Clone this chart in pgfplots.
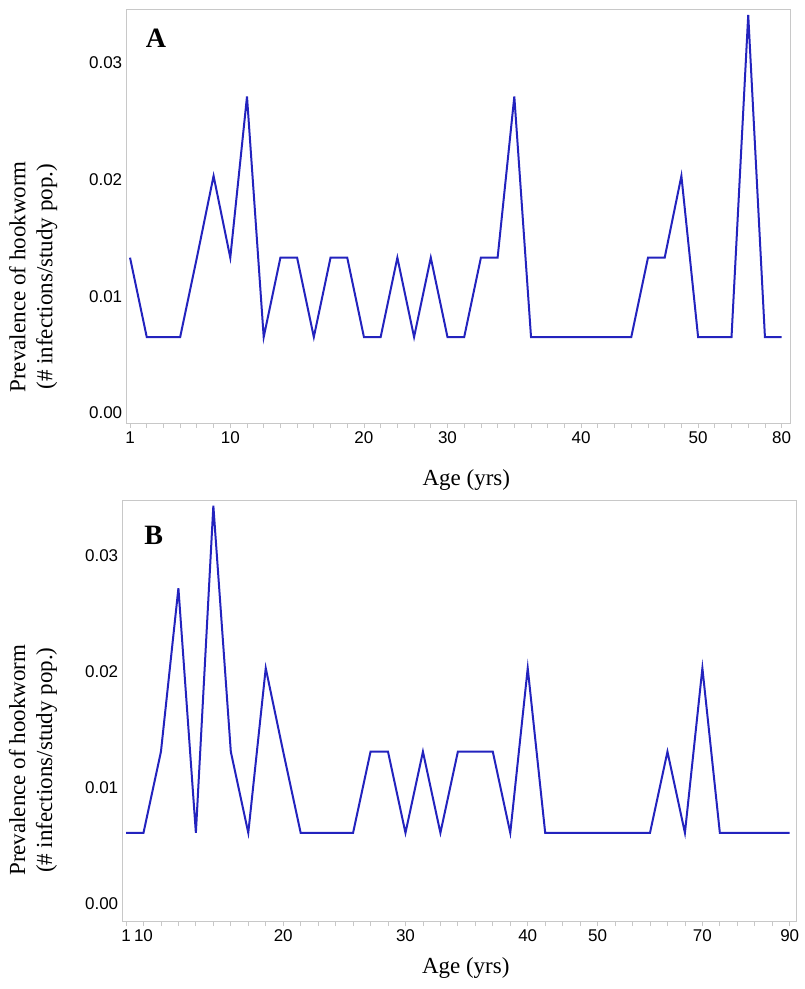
\documentclass[border=0pt]{standalone}
\usepackage{pgfplots}
\pgfplotsset{compat=1.18}
\usepackage{pgfplotstable}
\usepackage{fontspec}
\setmainfont{Liberation Serif}
\newfontfamily\arial{Liberation Sans}
\definecolor{lineblue}{RGB}{35,35,190}
\definecolor{framegray}{RGB}{200,200,200}

% panel A: age category index, prevalence
\pgfplotstableread{
i p
0 0.0133
1 0.0065
2 0.0065
3 0.0065
4 0.0133
5 0.0203
6 0.0133
7 0.0271
8 0.0065
9 0.0133
10 0.0133
11 0.0065
12 0.0133
13 0.0133
14 0.0065
15 0.0065
16 0.0133
17 0.0065
18 0.0133
19 0.0065
20 0.0065
21 0.0133
22 0.0133
23 0.0271
24 0.0065
25 0.0065
26 0.0065
27 0.0065
28 0.0065
29 0.0065
30 0.0065
31 0.0133
32 0.0133
33 0.0203
34 0.0065
35 0.0065
36 0.0065
37 0.0341
38 0.0065
39 0.0065
}\dataA

% panel B
\pgfplotstableread{
i p
0 0.0061
1 0.0061
2 0.0131
3 0.0272
4 0.0061
5 0.0343
6 0.0131
7 0.0061
8 0.0203
9 0.0131
10 0.0061
11 0.0061
12 0.0061
13 0.0061
14 0.0131
15 0.0131
16 0.0061
17 0.0131
18 0.0061
19 0.0131
20 0.0131
21 0.0131
22 0.0061
23 0.0203
24 0.0061
25 0.0061
26 0.0061
27 0.0061
28 0.0061
29 0.0061
30 0.0061
31 0.0131
32 0.0061
33 0.0203
34 0.0061
35 0.0061
36 0.0061
37 0.0061
38 0.0061
}\dataB

\pgfplotsset{
  panel/.style={
    scale only axis,
    axis line style={draw=framegray, line width=0.8pt},
    tick align=outside,
    xtick pos=bottom, ytick pos=left,
    major tick length=5pt, minor tick length=5pt,
    every tick/.style={draw=framegray, line width=0.8pt},
    ytick style={draw=none},
    scaled y ticks=false,
    ytick={0,0.01,0.02,0.03},
    yticklabels={0.00,0.01,0.02,0.03},
    ticklabel style={font=\arial\fontsize{17}{17}\selectfont},
    yticklabel style={xshift=4pt},
    xlabel={Age (yrs)},
    ylabel={Prevalence of hookworm\\(\# infections/study pop.)},
    label style={font=\fontsize{23}{27}\selectfont},
    ylabel style={align=center},
  },
}

\begin{document}
\begin{tikzpicture}
\path[use as bounding box] (0,0) rectangle (805pt,989pt);

\begin{axis}[panel,
  at={(126.7pt,566pt)}, anchor=south west,
  width=663.3pt, height=414pt,
  xmin=-0.2, xmax=39.5,
  ymin=-0.00086, ymax=0.0346,
  minor xtick={0,...,39},
  xtick={0,6,14,19,27,34,39},
  xticklabels={1,10,20,30,40,50,80},
  xlabel style={at={(axis description cs:0.512,-0.138)}, anchor=center},
  ylabel style={at={(axis description cs:-0.141,0.353)}, anchor=center},
]
\addplot[lineblue, line width=2pt, line join=miter] table[x=i, y=p] {\dataA};
\node[font=\bfseries\fontsize{28}{28}\selectfont] at (axis description cs:0.044,0.93) {A};
\end{axis}

\begin{axis}[panel,
  at={(122.7pt,68pt)}, anchor=south west,
  width=674pt, height=421pt,
  xmin=-0.19, xmax=38.4,
  ymin=-0.0015, ymax=0.0348,
  minor xtick={0,...,38},
  xtick={0,1,9,16,23,27,33,38},
  xticklabels={1,10,20,30,40,50,70,90},
  xlabel style={at={(axis description cs:0.509,-0.112)}, anchor=center},
  ylabel style={at={(axis description cs:-0.133,0.382)}, anchor=center},
]
\addplot[lineblue, line width=2pt, line join=miter] table[x=i, y=p] {\dataB};
\node[font=\bfseries\fontsize{28}{28}\selectfont] at (axis description cs:0.046,0.917) {B};
\end{axis}
\end{tikzpicture}
\end{document}
